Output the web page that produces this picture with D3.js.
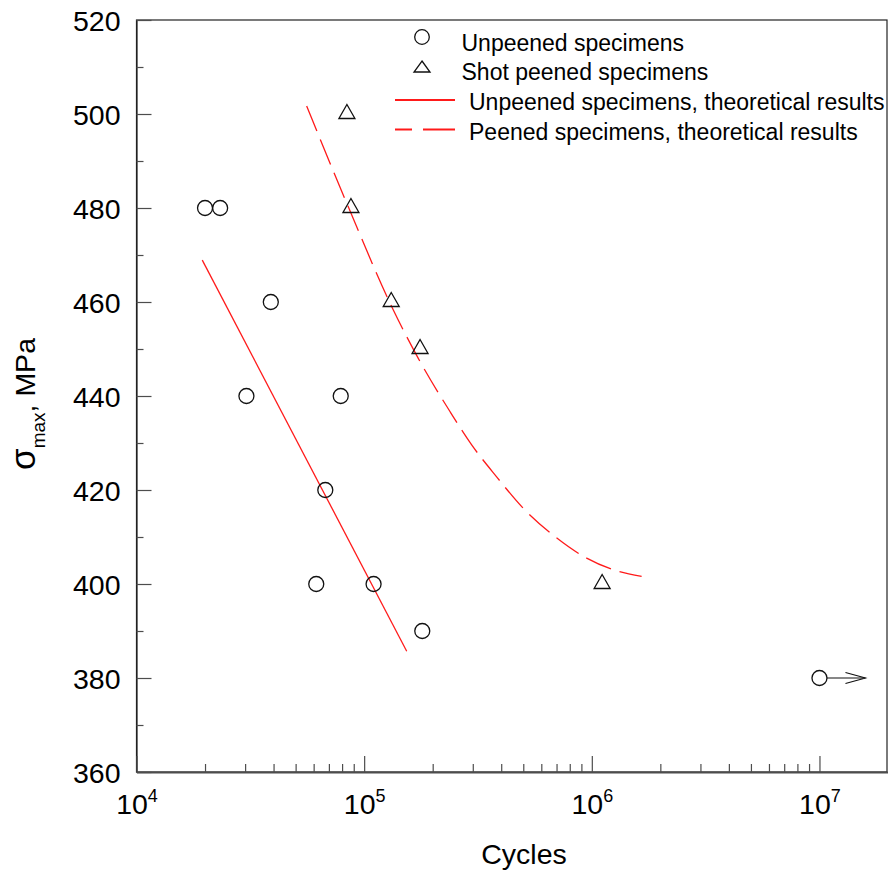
<!DOCTYPE html>
<html>
<head>
<meta charset="utf-8">
<script src="https://cdn.jsdelivr.net/npm/d3@7"></script>
<style>
  html, body { margin: 0; padding: 0; background: #fff; }
  svg { display: block; font-family: "Liberation Sans", Arial, sans-serif; }
</style>
</head>
<body>
<svg id="chart" width="888" height="872"></svg>
<script>
// Fatigue test results: maximum stress vs. cycles to failure
const unpeenedCycles = [2.0e4, 2.33e4, 3.89e4, 3.04e4, 7.89e4, 6.75e4, 6.16e4, 1.1e5, 1.8e5, 1.0e7];
const unpeenedStress = [480, 480, 460, 440, 440, 420, 400, 400, 390, 380];

const peenedCycles = [8.4e4, 8.75e4, 1.315e5, 1.76e5, 1.11e6];
const peenedStress = [500, 480, 460, 450, 400];

// Theoretical curve, unpeened (straight in log N)
const unpeenedTheoryCycles = [1.945e4, 1.538e5];
const unpeenedTheoryStress = [468.9, 385.7];

// Theoretical curve, shot peened
const peenedTheoryCycles = [5.59e4, 8.49e4, 1.343e5, 1.729e5, 2.382e5, 2.967e5, 3.819e5, 5.0e5, 6.886e5, 9.493e5, 1.285e6, 1.655e6];
const peenedTheoryStress = [501.7, 480.4, 458.3, 448.0, 436.7, 429.6, 422.8, 416.1, 410.1, 405.5, 402.8, 401.6];

// Run-out specimen (no failure) marked with an arrow
const runoutIndex = 9;

const yMajorTicks = [360, 380, 400, 420, 440, 460, 480, 500, 520];
const yMinorTicks = [370, 390, 410, 430, 450, 470, 490, 510];
const xDecades = [4, 5, 6, 7];

const legendLabels = [
  "Unpeened specimens",
  "Shot peened specimens",
  "Unpeened specimens, theoretical results",
  "Peened specimens, theoretical results"
];

const svg = d3.select("#chart");
const plotLeft = 136.5, plotRight = 887, plotTop = 20, plotBottom = 772;

const x = d3.scaleLog().domain([1e4, 2e7]).range([plotLeft, plotRight + 1]);
const y = d3.scaleLinear().domain([360, 520]).range([plotBottom, plotTop]);

const axisColor = "#4d4d4d";
const red = "#ff1a1a";

// Minor x ticks: 2..9 within each decade
const xMinorTicks = [];
[4, 5, 6].forEach(d => { for (let k = 2; k <= 9; k++) xMinorTicks.push(k * Math.pow(10, d)); });
const xMajorTicks = xDecades.map(d => Math.pow(10, d));

// ---- frame ----
svg.append("rect")
  .attr("x", plotLeft).attr("y", plotTop)
  .attr("width", plotRight - plotLeft).attr("height", plotBottom - plotTop)
  .attr("fill", "none").attr("stroke", "#222").attr("stroke-width", 1.2);

// ---- y axis ----
const yAxisMajor = d3.axisLeft(y).tickValues(yMajorTicks).tickSize(-15).tickSizeOuter(0)
  .tickPadding(16).tickFormat(d3.format("d"));
const gy = svg.append("g").attr("transform", `translate(${plotLeft},0)`).call(yAxisMajor);
gy.select(".domain").attr("stroke", "#222").attr("stroke-width", 1.2);
gy.selectAll(".tick line").attr("stroke", axisColor).attr("stroke-width", 1.2);
gy.selectAll(".tick text")
  .attr("font-family", "Liberation Sans, Arial, sans-serif")
  .attr("font-size", 28.5).attr("fill", "#000").attr("dy", "0.36em");

const yAxisMinor = d3.axisLeft(y).tickValues(yMinorTicks).tickSize(-7).tickSizeOuter(0).tickFormat("");
const gy2 = svg.append("g").attr("transform", `translate(${plotLeft},0)`).call(yAxisMinor);
gy2.select(".domain").remove();
gy2.selectAll(".tick line").attr("stroke", axisColor).attr("stroke-width", 1.2);

// ---- x axis ----
const xAxisMajor = d3.axisBottom(x).tickValues(xMajorTicks).tickSize(-16).tickSizeOuter(0).tickFormat("");
const gx = svg.append("g").attr("transform", `translate(0,${plotBottom})`).call(xAxisMajor);
gx.select(".domain").attr("stroke", axisColor).attr("stroke-width", 1.8);
gx.selectAll(".tick line").attr("stroke", axisColor).attr("stroke-width", 1.2);
gx.selectAll(".tick text").remove();

const xAxisMinor = d3.axisBottom(x).tickValues(xMinorTicks).tickSize(-8).tickSizeOuter(0).tickFormat("");
const gx2 = svg.append("g").attr("transform", `translate(0,${plotBottom})`).call(xAxisMinor);
gx2.select(".domain").remove();
gx2.selectAll(".tick line").attr("stroke", axisColor).attr("stroke-width", 1.2);

// Power-of-ten labels
const xLabels = svg.append("g");
xDecades.forEach(d => {
  const t = xLabels.append("text")
    .attr("x", x(Math.pow(10, d)) + 0.5).attr("y", plotBottom + 42)
    .attr("text-anchor", "middle").attr("font-size", 28.5).attr("fill", "#000");
  t.append("tspan").text("10");
  t.append("tspan").attr("font-size", 18).attr("dy", -12).text(String(d));
});

// Axis titles
svg.append("text")
  .attr("x", 524).attr("y", 864)
  .attr("text-anchor", "middle").attr("font-size", 28.5).attr("fill", "#000")
  .text("Cycles");

const yTitle = svg.append("text")
  .attr("transform", "translate(34.5,404) rotate(-90)")
  .attr("text-anchor", "middle").attr("font-size", 28.5).attr("fill", "#000");
yTitle.append("tspan").attr("font-size", 35).text("σ");
yTitle.append("tspan").attr("font-size", 19).attr("dy", 10).text("max");
yTitle.append("tspan").attr("dy", -10).text(", MPa");

// ---- theoretical curves ----
const unpeenedLine = d3.line()
  .x((d, i) => x(unpeenedTheoryCycles[i]))
  .y((d, i) => y(unpeenedTheoryStress[i]));
svg.append("path")
  .attr("d", unpeenedLine(unpeenedTheoryCycles))
  .attr("fill", "none").attr("stroke", red).attr("stroke-width", 1.3);

const peenedLine = d3.line()
  .x((d, i) => x(peenedTheoryCycles[i]))
  .y((d, i) => y(peenedTheoryStress[i]))
  .curve(d3.curveMonotoneX);
svg.append("path")
  .attr("d", peenedLine(peenedTheoryCycles))
  .attr("fill", "none").attr("stroke", red).attr("stroke-width", 1.3)
  .attr("stroke-dasharray", "27,9");

// ---- data markers ----
const triPath = "M0,-9.5L8,4.5L-8,4.5Z";

svg.append("g").selectAll("circle")
  .data(unpeenedCycles)
  .join("circle")
  .attr("cx", d => x(d))
  .attr("cy", (d, i) => y(unpeenedStress[i]))
  .attr("r", 7.5)
  .attr("fill", "none").attr("stroke", "#111").attr("stroke-width", 1.3);

svg.append("g").selectAll("path")
  .data(peenedCycles)
  .join("path")
  .attr("transform", (d, i) => `translate(${x(d)},${y(peenedStress[i])})`)
  .attr("d", triPath)
  .attr("fill", "none").attr("stroke", "#111").attr("stroke-width", 1.3);

// Run-out arrow
const rx = x(unpeenedCycles[runoutIndex]), ry = y(unpeenedStress[runoutIndex]);
const arrow = svg.append("g").attr("stroke", "#111").attr("stroke-width", 1.1).attr("fill", "none");
arrow.append("line").attr("x1", rx + 7.5).attr("y1", ry).attr("x2", rx + 46).attr("y2", ry);
arrow.append("path").attr("d", `M${rx + 26},${ry - 5.5}L${rx + 46},${ry}L${rx + 26},${ry + 5.5}`);

// ---- legend ----
const legend = svg.append("g").attr("font-size", 23).attr("fill", "#000");
legend.append("circle").attr("cx", 422).attr("cy", 37).attr("r", 7.3)
  .attr("fill", "none").attr("stroke", "#111").attr("stroke-width", 1.3);
legend.append("path").attr("transform", "translate(422,68)").attr("d", "M0,-7L8,4L-8,4Z")
  .attr("fill", "none").attr("stroke", "#111").attr("stroke-width", 1.3);
legend.append("line").attr("x1", 395).attr("x2", 455).attr("y1", 100).attr("y2", 100)
  .attr("stroke", red).attr("stroke-width", 2);
legend.append("line").attr("x1", 455).attr("x2", 395).attr("y1", 129.5).attr("y2", 129.5)
  .attr("stroke", red).attr("stroke-width", 2).attr("stroke-dasharray", "32,11");

const legendX = [461.5, 461.5, 469, 469];
const legendY = [50.5, 79.5, 109.5, 139.5];
legend.selectAll("text.lbl")
  .data(legendLabels)
  .join("text")
  .attr("class", "lbl")
  .attr("x", (d, i) => legendX[i])
  .attr("y", (d, i) => legendY[i])
  .text(d => d);
</script>
</body>
</html>
